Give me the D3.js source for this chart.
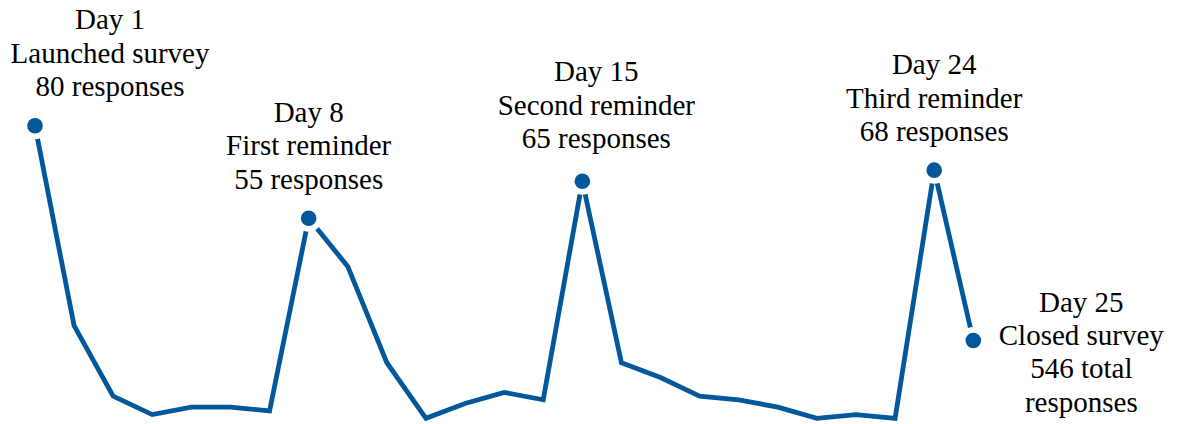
<!DOCTYPE html>
<html>
<head>
<meta charset="utf-8">
<script src="https://cdn.jsdelivr.net/npm/d3@7"></script>
<style>
  html, body { margin: 0; padding: 0; background: #ffffff; }
  svg { display: block; }
</style>
</head>
<body>
<svg id="chart" width="1178" height="424"></svg>
<script>
// Daily survey responses, day 1 to day 25
const days = d3.range(1, 26);
const responses = [80, 26, 7, 2, 4, 4, 3, 55, 42, 16, 1, 5, 8, 6, 65, 16, 12, 7, 6, 4, 1, 2, 1, 68, 22];

// Annotated milestones
const milestoneDays = [1, 8, 15, 24, 25];
const milestoneLabels = [
  ["Day 1", "Launched survey", "80 responses"],
  ["Day 8", "First reminder", "55 responses"],
  ["Day 15", "Second reminder", "65 responses"],
  ["Day 24", "Third reminder", "68 responses"],
  ["Day 25", "Closed survey", "546 total", "responses"]
];

// Label placement relative to each milestone point: dx = horizontal centre shift,
// dy = baseline of the first line, relative to the point
const labelLayout = {
  1:  { dx: 75,  dy: -96.4 },
  8:  { dx: 0,   dy: -96.4 },
  15: { dx: 14,  dy: -100 },
  24: { dx: 0,   dy: -96 },
  25: { dx: 108, dy: -29 }
};

const lineHeight = 33.4;
const color = "#03589b";

const svg = d3.select("#chart");

const x = d3.scaleLinear().domain([1, 25]).range([35, 973.3]);
const y = d3.scaleLinear().domain([0, 80]).range([422, 125.7]);

const series = days.map((d, i) => ({ day: d, value: responses[i] }));

const line = d3.line()
  .x(d => x(d.day))
  .y(d => y(d.value));

svg.append("path")
  .datum(series)
  .attr("fill", "none")
  .attr("stroke", color)
  .attr("stroke-width", 4.8)
  .attr("stroke-linejoin", "miter")
  .attr("d", line);

const milestones = milestoneDays.map((d, i) => ({
  day: d,
  value: responses[d - 1],
  lines: milestoneLabels[i]
}));

// white halo so the line stops short of each marker
svg.append("g").selectAll("circle")
  .data(milestones)
  .join("circle")
  .attr("cx", d => x(d.day))
  .attr("cy", d => y(d.value))
  .attr("r", 13.5)
  .attr("fill", "#ffffff");

svg.append("g").selectAll("circle")
  .data(milestones)
  .join("circle")
  .attr("cx", d => x(d.day))
  .attr("cy", d => y(d.value))
  .attr("r", 7.8)
  .attr("fill", color);

const labels = svg.append("g").selectAll("text")
  .data(milestones)
  .join("text")
  .attr("text-anchor", "middle")
  .style("font-family", "'Liberation Serif'")
  .attr("font-size", 29)
  .attr("fill", "#000")
  .attr("x", d => x(d.day) + labelLayout[d.day].dx)
  .attr("y", d => y(d.value) + labelLayout[d.day].dy);

labels.selectAll("tspan")
  .data(d => d.lines.map(t => ({ t, cx: x(d.day) + labelLayout[d.day].dx })))
  .join("tspan")
  .attr("x", d => d.cx)
  .attr("dy", (d, i) => i === 0 ? 0 : lineHeight)
  .text(d => d.t);
</script>
</body>
</html>
